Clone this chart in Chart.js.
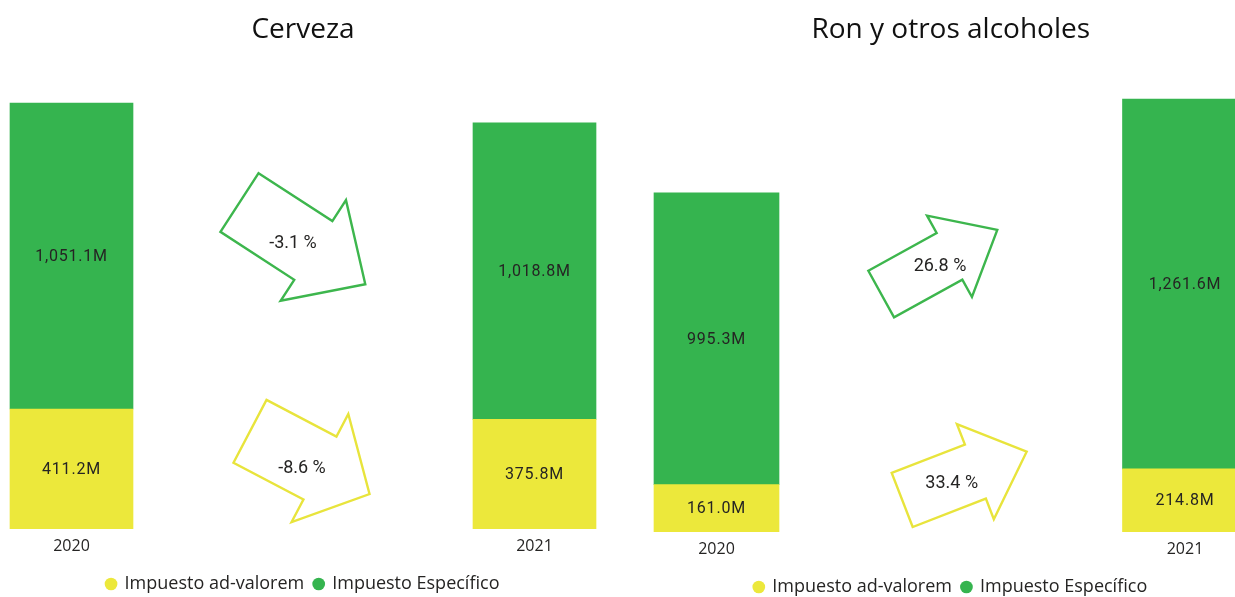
<!DOCTYPE html>
<html>
<head>
<meta charset="utf-8">
<script src="https://cdn.jsdelivr.net/npm/chart.js@4.4.1/dist/chart.umd.min.js"></script>
<style>
    html, body { margin: 0; padding: 0; background: #fff; overflow: hidden; width: 1235px; height: 597px; }
    #left { position: absolute; left: 0; top: 0; width: 620px; height: 603px; }
    #right { position: absolute; left: 620px; top: 3px; width: 630px; height: 603px; }
</style>
</head>
<body>
<div id="left"><canvas id="cervezaChart"></canvas></div>
<div id="right"><canvas id="ronChart"></canvas></div>
<script>
// Data (millions)
const years = ['2020', '2021'];
const seriesNames = ['Impuesto ad-valorem', 'Impuesto Específico'];
const cervezaAdValorem = [411.2, 375.8];
const cervezaEspecifico = [1051.1, 1018.8];
const ronAdValorem = [161.0, 214.8];
const ronEspecifico = [995.3, 1261.6];

const yellow = '#ece83b';
const green = '#35b44f';
const arrowYellow = '#e8e43c';
const arrowGreen = '#3db64d';
const textColor = '#252423';

function fmtM(v) {
    return v.toLocaleString('en-US', { minimumFractionDigits: 1, maximumFractionDigits: 1 }) + 'M';
}

function pctChange(values) {
    return ((values[1] - values[0]) / values[0] * 100).toFixed(1) + ' %';
}

// Value labels in the middle of each segment
const valueLabels = {
    id: 'valueLabels',
    afterDatasetsDraw(chart) {
        const ctx = chart.ctx;
        ctx.save();
        ctx.font = '16px Roboto';
        ctx.letterSpacing = '0.8px';
        ctx.fillStyle = textColor;
        ctx.textAlign = 'center';
        ctx.textBaseline = 'middle';
        chart.data.datasets.forEach((ds, i) => {
            chart.getDatasetMeta(i).data.forEach((bar, j) => {
                const p = bar.getProps(['x', 'y', 'base'], true);
                ctx.fillText(fmtM(ds.data[j]), p.x, (p.y + p.base) / 2 + 1);
            });
        });
        ctx.restore();
    }
};

// Outlined block arrows with the % change
const changeArrows = {
    id: 'changeArrows',
    afterDraw(chart, args, opts) {
        const ctx = chart.ctx;
        (opts.items || []).forEach(a => {
            const r = a.angle * Math.PI / 180;
            const c = Math.cos(r), s = Math.sin(r);
            const k = a.len - a.headLen;
            const pts = [[0, -a.h], [k, -a.h], [k, -a.H], [a.len, 0], [k, a.H], [k, a.h], [0, a.h]];
            ctx.save();
            ctx.beginPath();
            pts.forEach(([u, v], i) => {
                const x = a.x + u * c - v * s;
                const y = a.y + u * s + v * c;
                if (i === 0) ctx.moveTo(x, y); else ctx.lineTo(x, y);
            });
            ctx.closePath();
            ctx.lineWidth = 2.4;
            ctx.lineJoin = 'miter';
            ctx.strokeStyle = a.color;
            ctx.stroke();
            ctx.font = '18px Roboto';
            ctx.fillStyle = textColor;
            ctx.textAlign = 'center';
            ctx.textBaseline = 'middle';
            ctx.fillText(a.text, a.tx, a.ty);
            ctx.restore();
        });
    }
};

function buildChart(canvasId, title, adValorem, especifico, opts) {
    const ctx = document.getElementById(canvasId).getContext('2d');
    return new Chart(ctx, {
        type: 'bar',
        data: {
            labels: years,
            datasets: [
                {
                    label: seriesNames[0],
                    data: adValorem,
                    backgroundColor: yellow,
                    barThickness: opts.barWidth,
                    clip: false
                },
                {
                    label: seriesNames[1],
                    data: especifico,
                    backgroundColor: green,
                    barThickness: opts.barWidth,
                    clip: false
                }
            ]
        },
        options: {
            responsive: true,
            maintainAspectRatio: false,
            animation: false,
            layout: {
                padding: { left: opts.padLeft, right: opts.padRight, top: 0, bottom: 0 }
            },
            scales: {
                x: {
                    stacked: true,
                    offset: false,
                    grid: { display: false, drawTicks: false },
                    border: { display: false },
                    ticks: {
                        color: textColor,
                        font: { family: 'Open Sans', size: 16, lineHeight: 1.14 },
                        padding: 9
                    }
                },
                y: {
                    stacked: true,
                    display: false,
                    min: 0,
                    max: opts.yMax
                }
            },
            plugins: {
                title: {
                    display: true,
                    text: title,
                    color: '#111',
                    font: { family: 'Open Sans', size: 28, weight: 'normal' },
                    padding: { top: opts.titleTop, bottom: 30 }
                },
                legend: {
                    position: 'bottom',
                    labels: {
                        usePointStyle: true,
                        pointStyle: 'circle',
                        boxWidth: 9,
                        boxHeight: 9,
                        padding: 10,
                        color: textColor,
                        font: { family: 'Open Sans', size: 18 }
                    }
                },
                tooltip: { enabled: false },
                changeArrows: { items: opts.arrows }
            }
        },
        plugins: [valueLabels, changeArrows]
    });
}

buildChart('cervezaChart', 'Cerveza', cervezaAdValorem, cervezaEspecifico, {
    barWidth: 123,
    padLeft: 71.5,
    padRight: 85.5,
    yMax: 1553,
    titleTop: 13,
    arrows: [
        { x: 239.5, y: 202.5, angle: 33, len: 150, headLen: 62, h: 35, H: 60,
          color: arrowGreen, text: pctChange(cervezaEspecifico), tx: 293, ty: 243 },
        { x: 250, y: 431.3, angle: 27.7, len: 135, headLen: 56, h: 35.5, H: 61,
          color: arrowYellow, text: pctChange(cervezaAdValorem), tx: 302, ty: 468 }
    ]
});

buildChart('ronChart', 'Ron y otros alcoholes', ronAdValorem, ronEspecifico, {
    barWidth: 125,
    padLeft: 96.5,
    padRight: 65,
    yMax: 1553,
    titleTop: 10,
    arrows: [
        { x: 261.2, y: 291, angle: -28.9, len: 132.6, headLen: 54.6, h: 26.6, H: 46.5,
          color: arrowGreen, text: pctChange(ronEspecifico), tx: 320, ty: 263.7 },
        { x: 282.2, y: 497, angle: -21.2, len: 133.5, headLen: 55, h: 29, H: 51,
          color: arrowYellow, text: pctChange(ronAdValorem), tx: 331.7, ty: 480.3 }
    ]
});
</script>
</body>
</html>
